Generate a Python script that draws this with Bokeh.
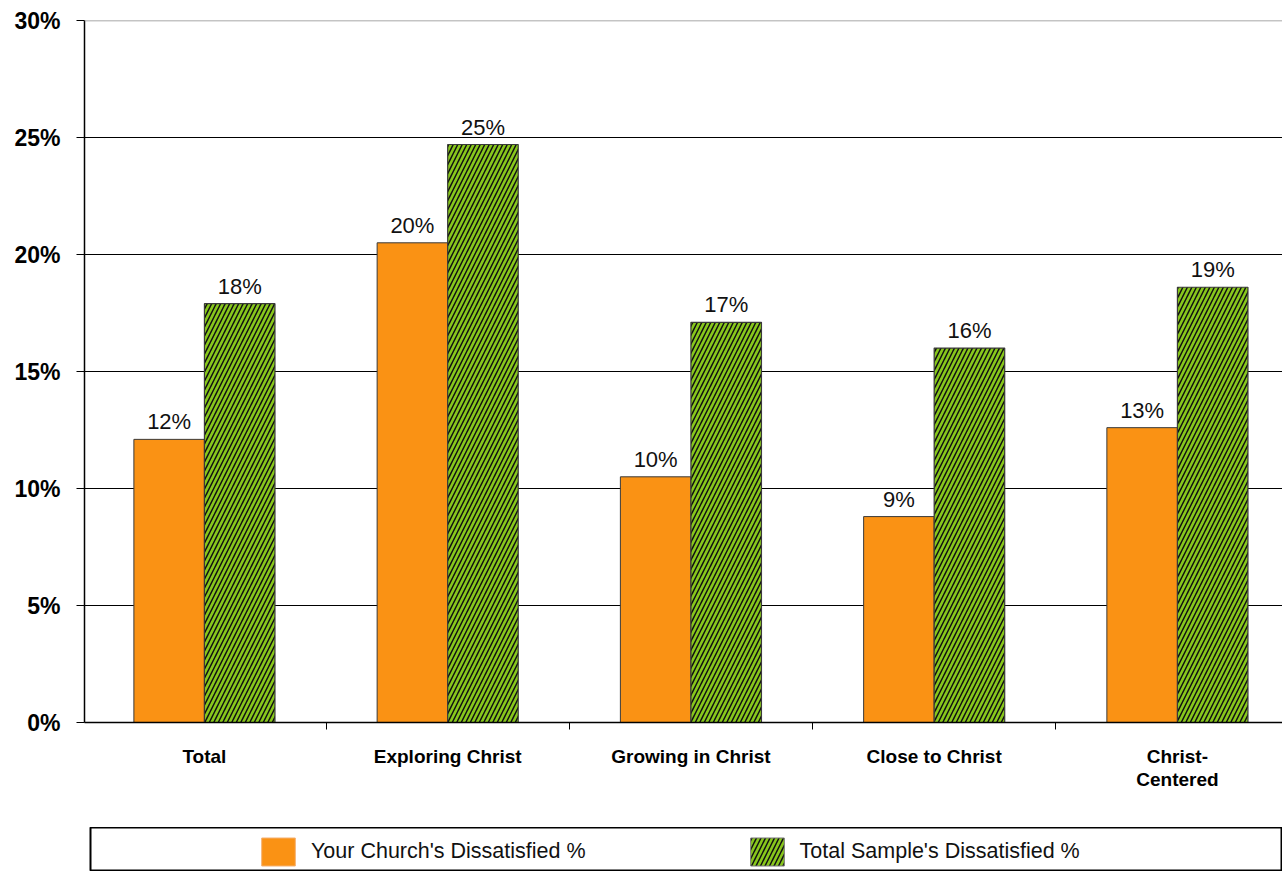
from bokeh.plotting import figure
from bokeh.models import (ColumnDataSource, Range1d, FixedTicker, PrintfTickFormatter,
                          Span, Legend, LegendItem)
from bokeh.transform import dodge
from bokeh.layouts import column
from bokeh.core.properties import value
from bokeh.embed import file_html
from bokeh.resources import INLINE

categories = ["Total", "Exploring Christ", "Growing in Christ", "Close to Christ", "Christ-\nCentered"]
church = [12.1, 20.5, 10.5, 8.8, 12.6]
sample = [17.9, 24.7, 17.1, 16.0, 18.6]
church_labels = ["12%", "20%", "10%", "9%", "13%"]
sample_labels = ["18%", "25%", "17%", "16%", "19%"]
y_ticks = [0, 5, 10, 15, 20, 25, 30]
series_names = ["Your Church's Dissatisfied %", "Total Sample's Dissatisfied %"]

ORANGE = "#FA9214"
GREEN = "#88C81C"
EDGE = "#3a3a3a"
FONT = "Liberation Sans"
HATCH = dict(hatch_pattern="right_diagonal_line", hatch_color="#111111",
             hatch_weight=1.5, hatch_scale=9)

xs = list(range(len(categories)))
src = ColumnDataSource(dict(x=xs, church=church, sample=sample,
                            church_lbl=church_labels, sample_lbl=sample_labels))

p = figure(width=1282, height=827, x_range=Range1d(-0.493, 4.432), y_range=Range1d(0, 30),
           output_backend="svg", toolbar_location=None,
           min_border_left=84, min_border_right=0, min_border_top=20, min_border_bottom=105,
           outline_line_color=None)

BW = 0.29
p.vbar(x=dodge("x", -BW / 2), top="church", width=BW, source=src,
       fill_color=ORANGE, line_color=EDGE, line_width=1)
p.vbar(x=dodge("x", BW / 2), top="sample", width=BW, source=src,
       fill_color=GREEN, line_color=EDGE, line_width=1.2, **HATCH)

for col, lbl, off in (("church", "church_lbl", -BW / 2), ("sample", "sample_lbl", BW / 2)):
    p.text(x=dodge("x", off), y=col, text=lbl, source=src,
           text_align="center", text_baseline="bottom", y_offset=-5,
           text_font=value(FONT), text_font_size="22px", text_color="#111111")

# grid
p.xgrid.visible = False
p.ygrid.ticker = FixedTicker(ticks=y_ticks[1:-1])
p.ygrid.grid_line_color = "#000000"
p.ygrid.grid_line_width = 1
p.add_layout(Span(location=y_ticks[-1], dimension="width", line_color="#8a8a8a", line_width=1.5))

# y axis
ya = p.yaxis[0]
ya.ticker = FixedTicker(ticks=y_ticks)
ya.formatter = PrintfTickFormatter(format="%d%%")
ya.major_label_text_font = FONT
ya.major_label_text_font_style = "bold"
ya.major_label_text_font_size = "23px"
ya.major_label_text_color = "#000000"
ya.major_tick_out = 8
ya.major_tick_in = 0
ya.minor_tick_line_color = None
ya.major_label_standoff = 16
ya.axis_line_color = "#000000"
ya.axis_line_width = 1.5
ya.major_tick_line_color = "#000000"

# x axis
xa = p.xaxis[0]
xa.ticker = FixedTicker(ticks=xs, minor_ticks=[i - 0.5 for i in range(len(categories) + 1)])
xa.major_label_overrides = {i: c for i, c in enumerate(categories)}
xa.major_label_text_font = FONT
xa.major_label_text_font_style = "bold"
xa.major_label_text_font_size = "19px"
xa.major_label_text_color = "#000000"
xa.major_label_text_line_height = 1.1
xa.major_tick_out = 0
xa.major_tick_in = 0
xa.minor_tick_out = 7
xa.minor_tick_in = 0
xa.minor_tick_line_color = "#000000"
xa.major_label_standoff = 16
xa.axis_line_color = "#000000"
xa.axis_line_width = 1.5

# legend panel (its frame outline is the legend box)
lg = figure(width=1276, height=44, margin=(0, 0, 0, 6), x_range=Range1d(0, 1), y_range=Range1d(100, 101),
            x_axis_type=None, y_axis_type=None, output_backend="svg", toolbar_location=None,
            min_border=0, min_border_left=84, outline_line_color="#000000", outline_line_width=2)
lg.grid.visible = False
r1 = lg.vbar(x="x", top="church", width=0.1, source=src,
             fill_color=ORANGE, line_color="#f4b070", line_width=1)
r2 = lg.vbar(x="x", top="sample", width=0.1, source=src,
             fill_color=GREEN, line_color="#777777", line_width=1, **HATCH)
legend = Legend(items=[LegendItem(label=series_names[0], renderers=[r1]),
                       LegendItem(label=series_names[1], renderers=[r2])],
                orientation="horizontal", location=(167, 2), spacing=160,
                glyph_width=42, glyph_height=35, label_standoff=12,
                label_text_font=FONT, label_text_font_size="21.5px", label_text_color="#111111",
                padding=0, margin=0, border_line_alpha=0, background_fill_alpha=0)
lg.add_layout(legend)

layout = column(p, lg)
open("out.html", "w").write(file_html(layout, INLINE))
